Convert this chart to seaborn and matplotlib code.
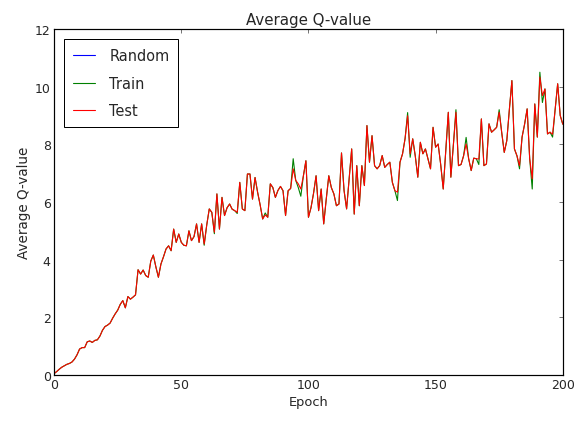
import matplotlib
matplotlib.use("Agg")
import matplotlib.pyplot as plt
import pandas as pd
import seaborn as sns

# --- data ---
epochs = list(range(0, 201))

test_q = [
    0.05, 0.12, 0.20, 0.27, 0.32, 0.37, 0.40, 0.45, 0.55, 0.70,
    0.90, 0.95, 0.95, 1.15, 1.18, 1.13, 1.20, 1.22, 1.35, 1.55,
    1.68, 1.73, 1.80, 1.97, 2.12, 2.25, 2.45, 2.58, 2.33, 2.72,
    2.63, 2.70, 2.78, 3.65, 3.50, 3.64, 3.45, 3.39, 3.95, 4.16,
    3.75, 3.39, 3.85, 4.10, 4.37, 4.48, 4.31, 5.06, 4.60, 4.89,
    4.60, 4.50, 4.48, 5.00, 4.66, 4.80, 5.24, 4.60, 5.24, 4.54,
    5.20, 5.76, 5.64, 4.95, 6.28, 5.06, 6.16, 5.53, 5.80, 5.93,
    5.75, 5.70, 5.64, 6.68, 5.76, 5.70, 6.97, 6.97, 6.10, 6.85,
    6.34, 5.90, 5.41, 5.55, 5.47, 6.63, 6.50, 6.16, 6.40, 6.54,
    6.39, 5.53, 6.39, 6.47, 7.15, 6.75, 6.63, 6.45, 6.90, 7.43,
    5.47, 5.80, 6.30, 6.91, 5.70, 6.45, 5.24, 6.10, 6.91, 6.50,
    6.28, 5.87, 5.93, 7.70, 6.40, 5.76, 6.80, 7.84, 5.58, 7.26,
    5.87, 7.26, 6.57, 8.65, 7.38, 8.30, 7.26, 7.15, 7.26, 7.61,
    7.20, 7.30, 7.38, 6.68, 6.39, 6.34, 7.38, 7.67, 8.20, 8.99,
    7.67, 8.19, 7.60, 6.86, 8.07, 7.67, 7.84, 7.50, 7.15, 8.59,
    7.90, 8.01, 7.30, 6.45, 7.80, 9.11, 6.86, 8.00, 9.11, 7.26,
    7.30, 7.60, 8.01, 7.50, 7.09, 7.52, 7.50, 7.49, 8.88, 7.26,
    7.32, 8.71, 8.42, 8.50, 8.59, 9.11, 8.40, 7.72, 8.13, 9.20,
    10.21, 7.84, 7.60, 7.26, 8.25, 8.70, 9.23, 7.50, 6.80, 9.40,
    8.25, 10.33, 9.69, 9.92, 8.36, 8.42, 8.35, 9.20, 10.10, 9.00,
    8.70,
]

train_q = [
    0.05, 0.12, 0.20, 0.27, 0.32, 0.37, 0.40, 0.45, 0.55, 0.70,
    0.90, 0.95, 0.95, 1.15, 1.18, 1.13, 1.20, 1.22, 1.35, 1.55,
    1.68, 1.73, 1.80, 1.97, 2.12, 2.25, 2.45, 2.58, 2.33, 2.72,
    2.63, 2.70, 2.78, 3.65, 3.50, 3.64, 3.45, 3.39, 3.95, 4.16,
    3.75, 3.39, 3.85, 4.10, 4.37, 4.48, 4.31, 5.06, 4.60, 4.89,
    4.60, 4.50, 4.48, 5.00, 4.66, 4.80, 5.24, 4.60, 5.24, 4.50,
    5.20, 5.76, 5.64, 4.90, 6.28, 5.06, 6.16, 5.53, 5.80, 5.93,
    5.75, 5.70, 5.60, 6.68, 5.76, 5.70, 6.97, 6.97, 6.10, 6.85,
    6.34, 5.90, 5.41, 5.62, 5.47, 6.63, 6.50, 6.16, 6.40, 6.54,
    6.39, 5.53, 6.39, 6.47, 7.50, 6.75, 6.50, 6.20, 6.90, 7.43,
    5.47, 5.80, 6.30, 6.91, 5.70, 6.45, 5.24, 6.10, 6.91, 6.50,
    6.28, 5.87, 5.93, 7.70, 6.40, 5.76, 6.80, 7.84, 5.58, 7.26,
    5.87, 7.26, 6.57, 8.65, 7.38, 8.30, 7.26, 7.15, 7.26, 7.61,
    7.20, 7.30, 7.38, 6.68, 6.39, 6.05, 7.38, 7.67, 8.20, 9.10,
    7.55, 8.19, 7.60, 6.86, 8.07, 7.67, 7.84, 7.50, 7.15, 8.59,
    7.90, 8.01, 7.30, 6.45, 7.80, 9.11, 6.86, 8.00, 9.20, 7.26,
    7.30, 7.60, 8.24, 7.50, 7.09, 7.52, 7.50, 7.30, 8.88, 7.26,
    7.32, 8.71, 8.42, 8.50, 8.59, 9.20, 8.40, 7.72, 8.13, 9.20,
    10.21, 7.84, 7.60, 7.15, 8.25, 8.70, 9.23, 7.50, 6.45, 9.40,
    8.25, 10.50, 9.45, 9.92, 8.36, 8.42, 8.25, 9.20, 10.10, 9.00,
    8.70,
]

random_q = []  # Random appears only in the legend

xticks = [0, 50, 100, 150, 200]
yticks = [0, 2, 4, 6, 8, 10, 12]


def main():
    sns.set_style("white")
    plt.rcParams["font.family"] = ["DejaVu Sans"]
    plt.rcParams["xtick.direction"] = "in"
    plt.rcParams["ytick.direction"] = "in"

    df = pd.DataFrame({"Epoch": epochs, "Train": train_q, "Test": test_q})

    fig = plt.figure(figsize=(8, 5.861), dpi=72)
    ax = fig.add_axes([0.094, 0.109, 0.883, 0.820])

    ax.plot(random_q, random_q, color="blue", lw=1.1, label="Random")
    sns.lineplot(data=df, x="Epoch", y="Train", color="green", lw=1.1,
                 label="Train", ax=ax)
    sns.lineplot(data=df, x="Epoch", y="Test", color="red", lw=1.1,
                 label="Test", ax=ax)

    ax.set_xlim(0, 200)
    ax.set_ylim(0, 12)
    ax.set_xticks(xticks)
    ax.set_yticks(yticks)
    ax.tick_params(axis="both", which="both", top=True, right=True,
                   length=4, width=0.8, labelsize=12.5, color="#555555")
    for s in ax.spines.values():
        s.set_color("black")
        s.set_linewidth(1.2)

    ax.set_title("Average Q-value", fontsize=15, pad=5)
    ax.set_xlabel("Epoch", fontsize=13)
    ax.set_ylabel("Average Q-value", fontsize=13.5)

    leg = ax.legend(loc="upper left", fontsize=14.5, fancybox=False,
                    frameon=True, handlelength=1.5, borderpad=0.6,
                    labelspacing=0.88, handletextpad=1.0,
                    borderaxespad=0.7)
    leg.get_frame().set_edgecolor("black")
    leg.get_frame().set_linewidth(1.0)
    leg.get_frame().set_alpha(1.0)

    fig.savefig("out.png", dpi=72, facecolor="white")
    plt.close(fig)


if __name__ == "__main__":
    main()
